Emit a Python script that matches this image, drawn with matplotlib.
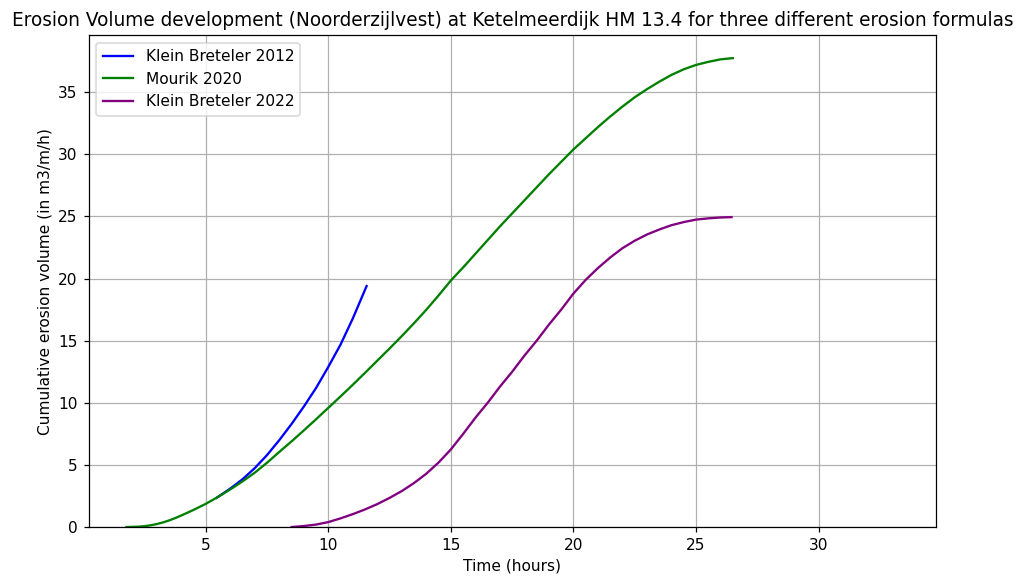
import matplotlib
matplotlib.use("Agg")
import matplotlib.pyplot as plt

# Klein Breteler 2012
kb2012_t = [5.44, 6, 6.5, 7, 7.5, 8, 8.5, 9, 9.5, 10, 10.5, 11, 11.56]
kb2012_v = [2.35, 3.1, 3.85, 4.75, 5.8, 7.0, 8.3, 9.7, 11.2, 12.9, 14.7, 16.8, 19.4]

# Mourik 2020
mourik_t = [1.76, 2.25, 2.5, 2.75, 3, 3.25, 3.5, 3.75, 4, 4.5, 5, 5.5, 6, 6.5, 7, 7.5,
            8, 8.5, 9, 9.5, 10, 10.5, 11, 11.5, 12, 12.5, 13, 13.5, 14, 14.5, 15,
            15.5, 16, 17, 18, 19, 20, 20.5, 21, 21.5, 22, 22.5, 23, 23.5, 24, 24.5,
            25, 25.5, 26, 26.5]
mourik_v = [0, 0.03, 0.07, 0.14, 0.24, 0.37, 0.53, 0.72, 0.93, 1.38, 1.87, 2.43, 3.03,
            3.68, 4.38, 5.18, 6.05, 6.9, 7.78, 8.68, 9.6, 10.52, 11.46, 12.42, 13.4,
            14.38, 15.38, 16.42, 17.5, 18.65, 19.85, 20.9, 22.0, 24.2, 26.3, 28.4,
            30.4, 31.3, 32.2, 33.05, 33.85, 34.6, 35.25, 35.85, 36.4, 36.85, 37.2,
            37.45, 37.65, 37.75]

# Klein Breteler 2022
kb2022_t = [8.5, 9, 9.5, 10, 10.5, 11, 11.5, 12, 12.5, 13, 13.5, 14, 14.5, 15, 15.5,
            16, 16.5, 17, 17.5, 18, 18.5, 19, 19.5, 20, 20.5, 21, 21.5, 22, 22.5,
            23, 23.5, 24, 24.5, 25, 25.5, 26, 26.45]
kb2022_v = [0, 0.08, 0.2, 0.4, 0.7, 1.04, 1.42, 1.85, 2.35, 2.9, 3.55, 4.3, 5.2, 6.25,
            7.5, 8.8, 10.0, 11.3, 12.5, 13.8, 15.0, 16.3, 17.5, 18.8, 19.9, 20.85,
            21.7, 22.45, 23.05, 23.55, 23.95, 24.3, 24.55, 24.75, 24.85, 24.92, 24.95]

dpi = 111
fig = plt.figure(figsize=(1019 / dpi, 576 / dpi), dpi=dpi)
ax = fig.add_axes([0.087, 0.085, 0.8315, 0.854])

ax.plot(kb2012_t, kb2012_v, color='blue', label='Klein Breteler 2012')
ax.plot(mourik_t, mourik_v, color='green', label='Mourik 2020')
ax.plot(kb2022_t, kb2022_v, color='purple', label='Klein Breteler 2022')

ax.set_xlim(0.22, 34.79)
ax.set_ylim(0, 39.6)
ax.set_xlabel("Time (hours)")
ax.set_ylabel("Cumulative erosion volume (in m3/m/h)")
ax.set_title("Erosion Volume development (Noorderzijlvest) at Ketelmeerdijk HM 13.4 for three different erosion formulas")
ax.legend(loc='upper left')
ax.grid()

fig.savefig("out.png", dpi=dpi)
